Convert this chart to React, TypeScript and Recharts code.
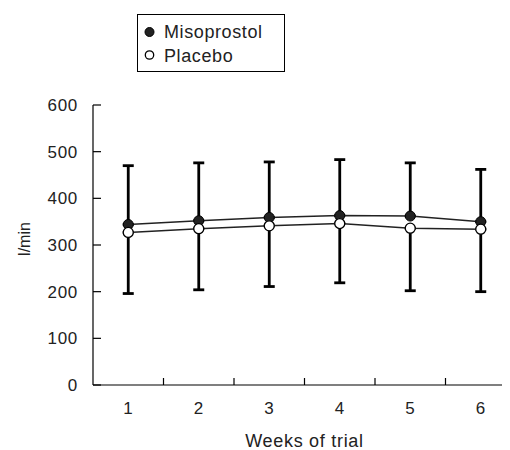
import { LineChart, Line, XAxis, YAxis, ErrorBar, Legend } from 'recharts';

const weeks = [1, 2, 3, 4, 5, 6];
const misoprostol = [344, 352, 359, 363, 362, 350];
const misoprostolSD = [126, 124, 119, 120, 114, 112];
const placebo = [327, 335, 341, 346, 336, 334];
const placeboSD = [131, 131, 130, 127, 134, 134];
const yTicks = [0, 100, 200, 300, 400, 500, 600];
const weekBounds = [1.5, 2.5, 3.5, 4.5, 5.5];
const seriesNames = ['Misoprostol', 'Placebo'];

// upper SD shown for misoprostol, lower SD for placebo
const data = weeks.map((week, i) => ({
  week,
  miso: misoprostol[i],
  misoErr: [0, misoprostolSD[i]],
  plac: placebo[i],
  placErr: [placeboSD[i], 0],
}));

const FONT = '"Liberation Sans", Arial, Helvetica, sans-serif';
const INK = '#222';
const axisStroke = { stroke: '#000', strokeWidth: 1.2 };
const tickStyle = { fontFamily: FONT, fontSize: 17, fill: INK, letterSpacing: 0.7 };
const Y_GAP = 15; // label to axis
const Y_TICK = 8; // inward tick length
const noLabel = () => <g />;

function YTick(props: any) {
  const { x, y, payload } = props;
  return (
    <g>
      <line x1={x + Y_GAP} x2={x + Y_GAP + Y_TICK} y1={y} y2={y} {...axisStroke} />
      <text x={x} y={y} dy="0.36em" textAnchor="end" style={tickStyle}>
        {payload.value}
      </text>
    </g>
  );
}

function LegendBox() {
  const txt = { fontFamily: FONT, fontSize: 18, letterSpacing: 0.6, fill: INK };
  return (
    <svg width={149} height={59} style={{ display: 'block' }}>
      <rect x={0.5} y={0.5} width={147} height={57} fill="#fff" stroke="#000" />
      <circle cx={12.5} cy={18} r={4.5} fill={INK} stroke="#000" />
      <text x={27} y={24} style={txt}>{seriesNames[0]}</text>
      <circle cx={12.5} cy={41} r={4.2} fill="#fff" stroke="#000" strokeWidth={1.3} />
      <text x={27} y={48} style={txt}>{seriesNames[1]}</text>
    </svg>
  );
}

function YLabel(props: any) {
  const vb = props.viewBox;
  const x = vb.x + 16;
  const y = vb.y + vb.height / 2 - 6;
  return (
    <text
      x={x}
      y={y}
      transform={`rotate(-90, ${x}, ${y})`}
      textAnchor="middle"
      dominantBaseline="central"
      style={{ fontFamily: FONT, fontSize: 16, fill: INK }}
    >
      l/min
    </text>
  );
}

export default function App() {
  return (
    <div style={{ width: 502, height: 442, overflow: 'hidden' }}>
      <LineChart
        width={530}
        height={442}
        data={data}
        margin={{ top: 97, right: 22, bottom: 0, left: 0 }}
      >
        <XAxis
          xAxisId="bounds"
          type="number"
          dataKey="week"
          domain={[0.5, 6.5]}
          ticks={weekBounds}
          tick={noLabel}
          mirror
          tickSize={7}
          axisLine={axisStroke}
          tickLine={axisStroke}
        />
        <XAxis
          xAxisId="weeks"
          type="number"
          dataKey="week"
          domain={[0.5, 6.5]}
          ticks={weeks}
          axisLine={false}
          tickLine={false}
          tickSize={0}
          tickMargin={17}
          height={65}
          tick={tickStyle}
          label={{
            value: 'Weeks of trial',
            position: 'insideBottom',
            offset: 3,
            style: { fontFamily: FONT, fontSize: 18, fill: INK, letterSpacing: 0.7 },
          }}
        />
        <YAxis
          yAxisId="val"
          domain={[0, 600]}
          ticks={yTicks}
          width={85}
          axisLine={axisStroke}
          tickLine={false}
          tickSize={0}
          tickMargin={Y_GAP}
          tick={<YTick />}
          label={<YLabel />}
        />
        <Legend
          verticalAlign="middle"
          content={LegendBox}
          wrapperStyle={{ top: 6, left: 129, width: 149, height: 59 }}
        />
        <Line
          xAxisId="weeks"
          yAxisId="val"
          dataKey="miso"
          name={seriesNames[0]}
          stroke={INK}
          strokeWidth={1.5}
          dot={false}
          isAnimationActive={false}
        >
          <ErrorBar dataKey="misoErr" direction="y" width={5.5} stroke="#000" strokeWidth={2.8} />
        </Line>
        <Line
          xAxisId="weeks"
          yAxisId="val"
          dataKey="plac"
          name={seriesNames[1]}
          stroke={INK}
          strokeWidth={1.5}
          dot={false}
          isAnimationActive={false}
        >
          <ErrorBar dataKey="placErr" direction="y" width={5.5} stroke="#000" strokeWidth={2.8} />
        </Line>
        <Line
          xAxisId="weeks"
          yAxisId="val"
          dataKey="miso"
          stroke="none"
          legendType="none"
          dot={{ r: 5, fill: INK, stroke: '#000', strokeWidth: 1 }}
          isAnimationActive={false}
        />
        <Line
          xAxisId="weeks"
          yAxisId="val"
          dataKey="plac"
          stroke="none"
          legendType="none"
          dot={{ r: 5, fill: '#fff', stroke: '#000', strokeWidth: 1.3 }}
          isAnimationActive={false}
        />
      </LineChart>
    </div>
  );
}
